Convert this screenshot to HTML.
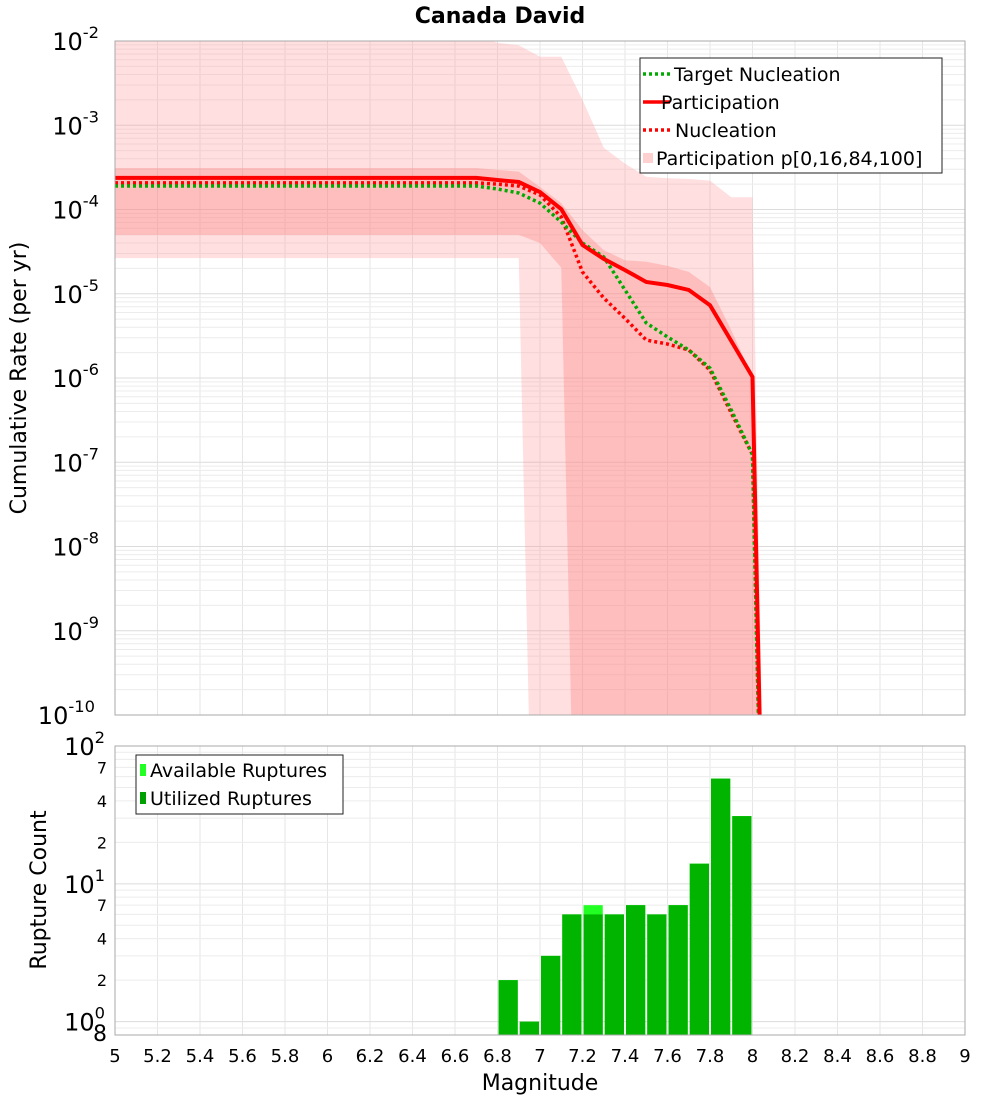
<!DOCTYPE html>
<html><head><meta charset="utf-8"><style>
html,body{margin:0;padding:0;background:#fff;}
svg{display:block;font-family:"DejaVu Sans","Liberation Sans",sans-serif;}
</style></head><body>
<svg id="chart" width="1000" height="1100" xmlns="http://www.w3.org/2000/svg">
<text x="500" y="23" text-anchor="middle" font-size="22" font-weight="bold">Canada David</text>
<text transform="translate(26,378) rotate(-90)" text-anchor="middle" font-size="22">Cumulative Rate (per yr)</text>
<text transform="translate(46,890) rotate(-90)" text-anchor="middle" font-size="22">Rupture Count</text>
<text x="540" y="1090" text-anchor="middle" font-size="22">Magnitude</text>
<g id="topPlot"></g>
<g id="botPlot"></g>
</svg>
<script>
const mags = [5.0, 6.7, 6.8, 6.9, 7.0, 7.1, 7.2, 7.3, 7.4, 7.5, 7.6, 7.7, 7.8, 7.9, 8.0, 8.1];
const participation = [2.37e-4, 2.37e-4, 2.24e-4, 2.12e-4, 1.61e-4, 1.01e-4, 3.79e-5, 2.59e-5, 1.91e-5, 1.38e-5, 1.27e-5, 1.11e-5, 7.3e-6, 2.75e-6, 1.03e-6, 1e-18];
const nucleation = [2.07e-4, 2.07e-4, 2.0e-4, 1.90e-4, 1.49e-4, 8.15e-5, 1.81e-5, 8.9e-6, 5.1e-6, 2.82e-6, 2.53e-6, 2.15e-6, 1.24e-6, 3.85e-7, 1.23e-7, 1e-18];
const targetNucleation = [1.90e-4, 1.90e-4, 1.75e-4, 1.57e-4, 1.19e-4, 7.1e-5, 4.0e-5, 2.73e-5, 1.11e-5, 4.5e-6, 3.07e-6, 2.15e-6, 1.31e-6, 4.17e-7, 1.23e-7, 1e-18];
const p100 = [1.2e-2, 1.2e-2, 9.5e-3, 8.9e-3, 6.5e-3, 6.5e-3, 2.0e-3, 5.4e-4, 3.5e-4, 2.45e-4, 2.35e-4, 2.3e-4, 2.2e-4, 1.4e-4, 1.4e-4, 1e-18];
const p0 = [2.65e-5, 2.65e-5, 2.65e-5, 2.65e-5, 1e-16, 1e-16, 1e-16, 1e-16, 1e-16, 1e-16, 1e-16, 1e-16, 1e-16, 1e-16, 1e-16, 1e-18];
const p84 = [3.11e-4, 3.11e-4, 2.95e-4, 2.82e-4, 1.85e-4, 1.19e-4, 5.7e-5, 3.3e-5, 2.5e-5, 2.4e-5, 2.14e-5, 1.82e-5, 1.2e-5, 3.7e-6, 1.03e-6, 1e-18];
const p16 = [5.0e-5, 5.0e-5, 5.0e-5, 5.0e-5, 4.0e-5, 2.04e-5, 1e-16, 1e-16, 1e-16, 1e-16, 1e-16, 1e-16, 1e-16, 1e-16, 1e-16, 1e-18];
const binCenters = [6.85, 6.95, 7.05, 7.15, 7.25, 7.35, 7.45, 7.55, 7.65, 7.75, 7.85, 7.95];
const availableCounts = [2, 1, 3, 6, 7, 6, 7, 6, 7, 14, 58, 31];
const utilizedCounts = [2, 1, 3, 6, 6, 6, 7, 6, 7, 14, 58, 31];
const xTicks = [5,5.2,5.4,5.6,5.8,6,6.2,6.4,6.6,6.8,7,7.2,7.4,7.6,7.8,8,8.2,8.4,8.6,8.8,9];
const yExpTop = [-2,-3,-4,-5,-6,-7,-8,-9,-10];

const NS="http://www.w3.org/2000/svg";
const L=115,R=965,T1=41,B1=715,T2=746,B2=1035;
const X=m=>L+(m-5)*(R-L)/4;
const Y1=v=>T1+(-2-Math.log10(v))*(B1-T1)/8;
const cLo=Math.log10(0.8),cHi=2;
const Y2=v=>B2-(Math.log10(v)-cLo)*(B2-T2)/(cHi-cLo);
function mk(p,tag,at){const e=document.createElementNS(NS,tag);for(const k in at)e.setAttribute(k,at[k]);p.appendChild(e);return e;}
const gTop=document.getElementById('topPlot'),gBot=document.getElementById('botPlot');

const defs=mk(document.getElementById('chart'),'defs',{});
const c1=mk(defs,'clipPath',{id:'c1'});mk(c1,'rect',{x:L,y:T1,width:R-L,height:B1-T1});
const c2=mk(defs,'clipPath',{id:'c2'});mk(c2,'rect',{x:L,y:T2,width:R-L,height:B2-T2});

function grid(g,T,B,Yf,lo,hi){
  for(const t of xTicks){const l=mk(g,'line',{x1:X(t),x2:X(t),y1:T,y2:B,stroke:'#e6e6e6','stroke-width':1});
    
    }
  for(let d=lo;d<hi;d++)for(let k=1;k<=9;k++){const v=k*Math.pow(10,d);const y=Yf(v);if(y<T-0.5||y>B+0.5)continue;
    const l=mk(g,'line',{x1:L,x2:R,y1:y,y2:y,stroke:k==1?'#dcdcdc':'#ececec','stroke-width':1});
    
    }
}
grid(gTop,T1,B1,Y1,-10,-2);grid(gBot,T2,B2,Y2,-1,2);

const gb=mk(gTop,'g',{'clip-path':'url(#c1)'});
function band(up,lo,fill,name){
  let d='M'+mags.map((m,i)=>X(m)+','+Y1(up[i])).join(' L');
  for(let i=mags.length-1;i>=0;i--)d+=' L'+X(mags[i])+','+Y1(lo[i]);
  const p=mk(gb,'path',{d:d+'Z',fill:fill});
  
  
}
band(p100,p0,'rgba(255,150,150,0.3)','band-p0-p100');
band(p84,p16,'rgba(255,130,130,0.35)','band-p16-p84');
function line(vals,col,dash,w,name){
  const p=mk(gb,'polyline',{points:mags.map((m,i)=>X(m)+','+Y1(vals[i])).join(' '),fill:'none',stroke:col,'stroke-width':w,'stroke-dasharray':dash||'none'});
  
  
}
line(nucleation,'#ff0000','3 3',3.5,'nucleation-line');
line(targetNucleation,'#00aa00','3 3',3.5,'target-nucleation-line');
line(participation,'#ff0000','',4,'participation-line');

const gbar=mk(gBot,'g',{'clip-path':'url(#c2)'});
const bw=(X(5.1)-X(5))-2;
binCenters.forEach((c,i)=>{
  const a=mk(gbar,'rect',{x:X(c)-bw/2,y:Y2(availableCounts[i]),width:bw,height:B2-Y2(availableCounts[i]),fill:'#22ff22'});
  
  
  const u=mk(gbar,'rect',{x:X(c)-bw/2,y:Y2(utilizedCounts[i]),width:bw,height:B2-Y2(utilizedCounts[i]),fill:'#00b400'});
  
  
});

mk(gTop,'rect',{x:L,y:T1,width:R-L,height:B1-T1,fill:'none',stroke:'#aaa','stroke-width':1});
mk(gBot,'rect',{x:L,y:T2,width:R-L,height:B2-T2,fill:'none',stroke:'#aaa','stroke-width':1});

for(const t of xTicks){const tx=mk(gBot,'text',{x:X(t),y:1062,'text-anchor':'middle','font-size':18});tx.textContent=String(t);
  
  }
function expLabel(g,x,y,e,fs){const t=mk(g,'text',{x:x,y:y+9,'text-anchor':'end','font-size':fs});
  
  
  t.appendChild(document.createTextNode('10'));
  const s=document.createElementNS(NS,'tspan');s.setAttribute('dy','-12');s.setAttribute('font-size',fs*0.68);s.textContent=String(e);t.appendChild(s);}
for(const e of yExpTop){const w=String(e).length*10;expLabel(gTop,115-w+4+(e==-10?6:0),Y1(Math.pow(10,e)),e,24);}
[2,1,0].forEach(e=>expLabel(gBot,115-10,Y2(Math.pow(10,e)),e,24));
const minorLabs=[70,40,20,7,4,2,0.8];
minorLabs.forEach(v=>{const t=mk(gBot,'text',{x:107,y:Y2(v)+6,'text-anchor':'end','font-size':v==0.8?22:16});t.textContent=String(v>=10?v/10:(v<1?8:v));
  
  });

const lg=mk(gTop,'g',{});


mk(lg,'rect',{x:640,y:58,width:302,height:115,fill:'#fff',stroke:'#222','stroke-width':1});
const items=[['Target Nucleation','#00aa00','3 3',674],['Participation','#ff0000','',661],['Nucleation','#ff0000','3 3',675],['Participation p[0,16,84,100]',null,'',656]];
items.forEach((it,i)=>{const y=74+i*28;
  if(it[1])mk(lg,'line',{x1:643,x2:670,y1:y,y2:y,stroke:it[1],'stroke-width':3.5,'stroke-dasharray':it[2]||'none'});
  else mk(lg,'rect',{x:643,y:y-5,width:10,height:10,fill:'#ffd0d0'});
  const t=mk(lg,'text',{x:it[3],y:y+7,'font-size':19});t.textContent=it[0];
  
  });
const lb=mk(gBot,'g',{});


mk(lb,'rect',{x:136,y:755,width:207,height:59,fill:'#fff',stroke:'#222','stroke-width':1});
[['Available Ruptures','#22ff22'],['Utilized Ruptures','#00a000']].forEach((it,i)=>{const y=770+i*28;
  mk(lb,'rect',{x:140,y:y-6,width:6,height:12,fill:it[1]});
  const t=mk(lb,'text',{x:150,y:y+7,'font-size':19});t.textContent=it[0];
  
  });
</script>
</body></html>
